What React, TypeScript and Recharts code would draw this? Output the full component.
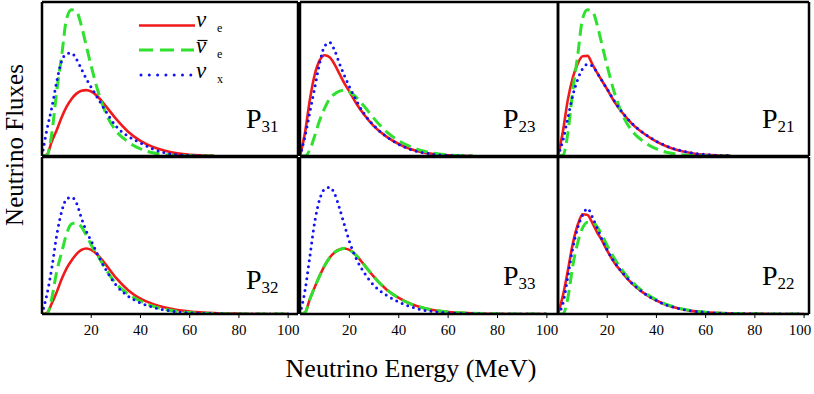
import React from 'react';
import { LineChart, Line, XAxis, YAxis, ReferenceLine } from 'recharts';

// energy grid (MeV) shared by every panel
const energy = [0, 2, 4, 6, 8, 10, 12, 14, 16, 18, 20, 23, 26, 30, 35, 40, 45, 50, 55, 60, 70, 80, 90, 100];

// top row (curves stop around 70 MeV)
const p31Red = [0, 0.04, 0.42, 0.74, 1.1, 1.4, 1.62, 1.77, 1.85, 1.87, 1.83, 1.66, 1.41, 1.06, 0.69, 0.43, 0.26, 0.15, 0.075, 0.035, 0.008, null, null, null];
const p31Green = [0, 0.02, 0.65, 1.85, 2.85, 3.9, 4.15, 4.1, 3.7, 3.12, 2.55, 1.78, 1.2, 0.72, 0.4, 0.2, 0.09, 0.04, 0.015, 0.005, 0, null, null, null];
const p31Blue = [0, 0.75, 1.38, 2.12, 2.7, 2.9, 2.92, 2.75, 2.47, 2.19, 1.95, 1.6, 1.26, 0.85, 0.56, 0.37, 0.2, 0.09, 0.04, 0.015, 0, null, null, null];

const p23Red = [0, 0.65, 1.6, 2.32, 2.72, 2.86, 2.8, 2.6, 2.33, 2.06, 1.83, 1.47, 1.17, 0.84, 0.55, 0.34, 0.19, 0.1, 0.05, 0.02, 0, null, null, null];
const p23Green = [0, 0, 0.18, 0.58, 1.02, 1.36, 1.62, 1.76, 1.84, 1.87, 1.82, 1.65, 1.41, 1.06, 0.69, 0.43, 0.26, 0.14, 0.07, 0.03, 0.008, null, null, null];
const p23Blue = [0, 0.55, 1.25, 1.95, 2.65, 3.12, 3.22, 3.0, 2.62, 2.28, 1.97, 1.55, 1.2, 0.86, 0.55, 0.33, 0.18, 0.09, 0.04, 0.015, 0, null, null, null];

const p21Red = [0, 0.7, 1.6, 2.22, 2.62, 2.83, 2.84, 2.6, 2.35, 2.12, 1.89, 1.53, 1.24, 0.92, 0.63, 0.41, 0.25, 0.14, 0.07, 0.035, 0.01, null, null, null];
const p21Green = [0, 0.02, 0.65, 1.85, 2.85, 3.9, 4.15, 4.1, 3.7, 3.12, 2.55, 1.78, 1.2, 0.72, 0.4, 0.2, 0.09, 0.04, 0.015, 0.005, 0, null, null, null];
const p21Blue = [0, 0.45, 1.08, 1.72, 2.17, 2.48, 2.6, 2.55, 2.35, 2.12, 1.9, 1.55, 1.25, 0.93, 0.64, 0.42, 0.26, 0.15, 0.08, 0.04, 0.01, null, null, null];

// bottom row
const p32Red = [0, 0.03, 0.3, 0.62, 0.98, 1.28, 1.5, 1.68, 1.8, 1.84, 1.8, 1.63, 1.38, 1.02, 0.67, 0.43, 0.28, 0.18, 0.11, 0.07, 0.025, 0.01, 0, 0];
const p32Green = [0, 0, 0.45, 1.2, 1.73, 2.25, 2.53, 2.56, 2.45, 2.21, 1.94, 1.6, 1.25, 0.86, 0.56, 0.36, 0.22, 0.13, 0.07, 0.04, 0.01, 0, 0, 0];
const p32Blue = [0, 0.55, 1.3, 2.22, 2.88, 3.23, 3.28, 3.12, 2.7, 2.33, 2.05, 1.62, 1.24, 0.82, 0.5, 0.31, 0.19, 0.11, 0.06, 0.03, 0.01, 0, 0, 0];

const p33Red = [0, 0.04, 0.42, 0.76, 1.08, 1.36, 1.58, 1.73, 1.81, 1.84, 1.8, 1.63, 1.38, 1.04, 0.69, 0.45, 0.28, 0.17, 0.1, 0.055, 0.02, 0.005, 0, 0];
const p33Green = [0, 0.04, 0.42, 0.76, 1.08, 1.36, 1.58, 1.73, 1.81, 1.84, 1.8, 1.63, 1.38, 1.04, 0.69, 0.45, 0.28, 0.17, 0.1, 0.055, 0.02, 0.005, 0, 0];
const p33Blue = [0, 0.65, 1.62, 2.6, 3.23, 3.51, 3.56, 3.38, 2.97, 2.5, 2.04, 1.52, 1.16, 0.8, 0.53, 0.34, 0.2, 0.11, 0.06, 0.03, 0.01, 0, 0, 0];

const p22Red = [0, 0.52, 1.22, 1.97, 2.5, 2.8, 2.78, 2.55, 2.28, 2.05, 1.78, 1.43, 1.17, 0.86, 0.58, 0.38, 0.23, 0.14, 0.08, 0.045, 0.015, 0.005, 0, 0];
const p22Green = [0, 0, 0.45, 1.35, 2.0, 2.42, 2.58, 2.58, 2.44, 2.2, 1.92, 1.55, 1.24, 0.91, 0.61, 0.4, 0.25, 0.15, 0.085, 0.05, 0.015, 0.005, 0, 0];
const p22Blue = [0, 0.3, 1.05, 1.85, 2.42, 2.78, 2.96, 2.72, 2.4, 2.08, 1.8, 1.45, 1.18, 0.87, 0.58, 0.38, 0.23, 0.14, 0.08, 0.045, 0.015, 0.005, 0, 0];

const topXTicks = [10, 30, 60, 80, 100];
const bottomXTicks = [20, 40, 60, 80, 100];
const topYTicks = [1, 2, 4];
const bottomYTicks = [3, 4];

const RED = '#f01a1a';
const GREEN = '#2fe02f';
const BLUE = '#1212f5';
const FONT = '"Liberation Serif", "Times New Roman", serif';

const buildRows = (red: (number | null)[], green: (number | null)[], blue: (number | null)[]) =>
  energy.map((e, i) => ({ e, red: red[i], green: green[i], blue: blue[i] }));

const axisLine = { stroke: '#000', strokeWidth: 2.5 };
const tickLine = { stroke: '#000', strokeWidth: 1 };

const LEFT_W = 8;
const PAD = 3;

// serif tick label under the bottom axis
const EnergyTick = ({ x, y, payload }: any) => (
  <text x={x} y={y + 17} textAnchor="middle" fontSize={15} fontFamily={FONT} fill="#000">
    {payload.value}
  </text>
);

interface PanelProps {
  x: number; // plot area left (page px)
  y: number; // plot area top
  w: number;
  h: number;
  xMax: number;
  yMax: number;
  bottom: boolean;
  red: (number | null)[];
  green: (number | null)[];
  blue: (number | null)[];
}

const Panel = ({ x, y, w, h, xMax, yMax, bottom, red, green, blue }: PanelProps) => {
  const xH = bottom ? 34 : 8;
  const data = buildRows(red, green, blue);
  return (
    <div style={{ position: 'absolute', left: x - LEFT_W, top: y - PAD }}>
      <LineChart
        width={LEFT_W + w + PAD}
        height={PAD + h + xH}
        data={data}
        margin={{ top: PAD, right: PAD, left: 0, bottom: 0 }}
      >
        <XAxis
          dataKey="e"
          type="number"
          domain={[0, xMax]}
          ticks={bottom ? bottomXTicks : topXTicks}
          allowDataOverflow
          height={xH}
          axisLine={axisLine}
          tickLine={tickLine}
          tickSize={bottom ? 4 : 5}
          tickMargin={0}
          tick={bottom ? <EnergyTick /> : false}
        />
        <YAxis
          type="number"
          domain={[0, yMax]}
          ticks={bottom ? bottomYTicks : topYTicks}
          allowDataOverflow
          width={LEFT_W}
          axisLine={axisLine}
          tickLine={tickLine}
          tickSize={6}
          tick={false}
        />
        <YAxis
          yAxisId="right"
          orientation="right"
          mirror
          type="number"
          domain={[0, yMax]}
          ticks={bottom ? bottomYTicks : topYTicks}
          allowDataOverflow
          width={1}
          axisLine={axisLine}
          tickLine={tickLine}
          tickSize={5}
          tick={false}
        />
        <ReferenceLine y={yMax} stroke="#000" strokeWidth={2.5} />
        <Line type="monotone" dataKey="red" stroke={RED} strokeWidth={2.6} dot={false} isAnimationActive={false} />
        <Line
          type="monotone"
          dataKey="green"
          stroke={GREEN}
          strokeWidth={3}
          strokeDasharray="12 6"
          dot={false}
          isAnimationActive={false}
        />
        <Line
          type="monotone"
          dataKey="blue"
          stroke={BLUE}
          strokeWidth={3}
          strokeDasharray="0 6"
          strokeLinecap="round"
          dot={false}
          isAnimationActive={false}
        />
      </LineChart>
    </div>
  );
};

const PanelLabel = ({ x, y, sub }: { x: number; y: number; sub: string }) => (
  <text x={x} y={y} fontSize={28} fontFamily={FONT} fill="#000">
    P
    <tspan fontSize={17} dy={4}>
      {sub}
    </tspan>
  </text>
);

// legend entry: symbol, subscript, optional bar over the symbol
const LegendLabel = ({ y, sub, bar }: { y: number; sub: string; bar?: boolean }) => (
  <g>
    {bar && <line x1={197.5} x2={207.5} y1={y - 12.5} y2={y - 12.5} stroke="#000" strokeWidth={1.2} />}
    <text x={196} y={y} fontSize={23} fontStyle="italic" fontFamily={FONT} fill="#000">ν</text>
    <text x={217} y={y + 5} fontSize={12} fontFamily={FONT} fill="#000">{sub}</text>
  </g>
);

export default function App() {
  return (
    <div style={{ position: 'absolute', left: 0, top: 0, width: 814, height: 394, background: '#fff', fontFamily: FONT }}>
      <Panel x={42} y={2} w={256} h={154} xMax={104} yMax={4.37} bottom={false} red={p31Red} green={p31Green} blue={p31Blue} />
      <Panel x={300} y={2} w={258} h={154} xMax={104.5} yMax={4.37} bottom={false} red={p23Red} green={p23Green} blue={p23Blue} />
      <Panel x={558} y={2} w={251} h={154} xMax={102} yMax={4.37} bottom={false} red={p21Red} green={p21Green} blue={p21Blue} />
      <Panel x={42} y={157} w={256} h={157} xMax={104} yMax={4.41} bottom red={p32Red} green={p32Green} blue={p32Blue} />
      <Panel x={300} y={157} w={258} h={157} xMax={104.5} yMax={4.41} bottom red={p33Red} green={p33Green} blue={p33Blue} />
      <Panel x={558} y={157} w={251} h={157} xMax={102} yMax={4.41} bottom red={p22Red} green={p22Green} blue={p22Blue} />

      <svg width={814} height={394} style={{ position: 'absolute', left: 0, top: 0, pointerEvents: 'none' }}>
        {/* legend */}
        <line x1={139} x2={195} y1={25.5} y2={25.5} stroke={RED} strokeWidth={2.6} />
        <line x1={139} x2={194} y1={50} y2={50} stroke={GREEN} strokeWidth={3} strokeDasharray="14 7" />
        <line x1={141} x2={194} y1={75} y2={75} stroke={BLUE} strokeWidth={3} strokeDasharray="0 8.3" strokeLinecap="round" />
        <LegendLabel y={27} sub="e" />
        <LegendLabel y={53} sub="e" bar />
        <LegendLabel y={78} sub="x" />

        <PanelLabel x={246} y={128} sub="31" />
        <PanelLabel x={503} y={128} sub="23" />
        <PanelLabel x={762} y={128} sub="21" />
        <PanelLabel x={246} y={289} sub="32" />
        <PanelLabel x={503} y={285} sub="33" />
        <PanelLabel x={762} y={285} sub="22" />

        <text x={411} y={377} fontSize={26} fontFamily={FONT} fill="#000" textAnchor="middle">
          Neutrino Energy (MeV)
        </text>
        <text
          x={23}
          y={145}
          fontSize={25}
          fontFamily={FONT}
          fill="#000"
          textAnchor="middle"
          transform="rotate(-90 23 145)"
        >
          Neutrino Fluxes
        </text>
      </svg>
    </div>
  );
}
